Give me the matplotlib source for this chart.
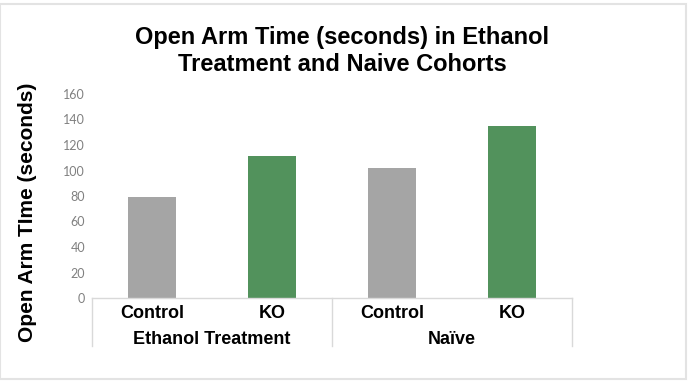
import matplotlib
matplotlib.use("Agg")
import matplotlib.pyplot as plt
import matplotlib.transforms as mtransforms
from matplotlib.patches import Rectangle

groups = ["Ethanol Treatment", "Naïve"]
categories = ["Control", "KO", "Control", "KO"]
values = [79, 111, 102, 135]
bar_colors = ["#a5a5a5", "#52925c", "#a5a5a5", "#52925c"]
yticks = [0, 20, 40, 60, 80, 100, 120, 140, 160]

W, H = 690, 386
fig = plt.figure(figsize=(W / 100, H / 100), dpi=100)

# axes placed in pixel terms: x 92..572, y(0)=298, y(160)=94
ax_l, ax_r, ax_b, ax_t = 92, 572, 298, 94
ax = fig.add_axes([ax_l / W, (H - ax_b) / H, (ax_r - ax_l) / W, (ax_b - ax_t) / H])

x = list(range(len(categories)))
ax.bar(x, values, width=0.4, color=bar_colors, zorder=2)
ax.set_xlim(-0.5, len(categories) - 0.5)
ax.set_ylim(0, 160)
ax.set_yticks(yticks)
ax.set_yticklabels([str(t) for t in yticks], fontsize=9, color="#808080", family="Lato")
ax.tick_params(axis="y", length=0, pad=5)
ax.set_xticks([])
for s in ax.spines.values():
    s.set_visible(False)

# category box below the axis
box_h = 48 / (ax_b - ax_t)
trans = mtransforms.blended_transform_factory(ax.transData, ax.transAxes)
line_kw = dict(color="#d9d9d9", lw=1, clip_on=False, transform=trans)
ax.plot([-0.5, 3.5], [0, 0], **line_kw)
for xv in [-0.5, 1.5, 3.5]:
    ax.plot([xv, xv], [0, -box_h], **line_kw)

for xi, lab in zip(x, categories):
    ax.text(xi, -16 / (ax_b - ax_t), lab, transform=trans, ha="center", va="center",
            fontsize=13, fontweight="bold", family="Liberation Sans", clip_on=False)
for gi, g in enumerate(groups):
    ax.text(gi * 2 + 0.5, -41 / (ax_b - ax_t), g, transform=trans, ha="center", va="center",
            fontsize=13, fontweight="bold", family="Liberation Sans", clip_on=False)

fig.text(342 / W, 1 - 51 / H, "Open Arm Time (seconds) in Ethanol\nTreatment and Naive Cohorts",
         ha="center", va="center", fontsize=17, fontweight="bold", family="Liberation Sans",
         linespacing=1.2)
fig.text(28 / W, 1 - 212 / H, "Open Arm TIme (seconds)", rotation=90, ha="center", va="center",
         fontsize=15, fontweight="bold", family="Liberation Sans")

# outer light border
fig.patches.append(Rectangle((0, 1 - 379 / H), 686 / W, 375 / H, transform=fig.transFigure,
                             fill=False, edgecolor="#e3e3e3", lw=1.5))

fig.savefig("out.png", dpi=100)
